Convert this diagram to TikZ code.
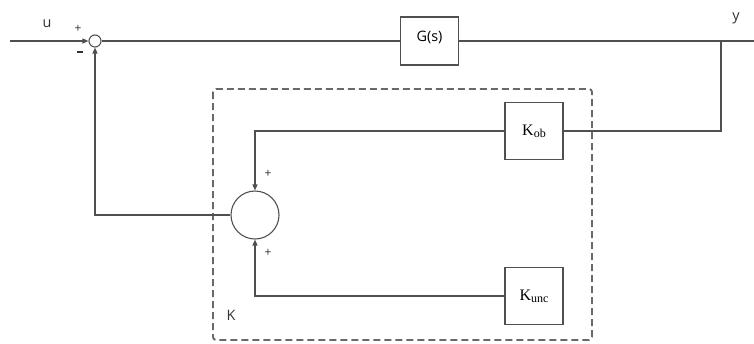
\documentclass[tikz,border=0pt]{standalone}
\usepackage{xcolor}
\usepackage{fontspec}
\setmainfont{Liberation Serif}
\newfontfamily\sigfont{Open Sans}
\usetikzlibrary{arrows.meta}
\definecolor{bdline}{RGB}{80,80,80}
\definecolor{bddash}{RGB}{105,105,105}
\definecolor{bdtext}{RGB}{50,50,50}

\begin{document}
\begin{tikzpicture}[x=1pt,y=-1pt,
    blockbox/.style={draw=bdline, line width=1.3pt, inner sep=0pt,
                     minimum width=58pt, minimum height=57pt,
                     font=\fontsize{16}{18}\selectfont},
    sig/.style={draw=bdline, line width=1.3pt},
    sigarrow/.style={sig, -{Triangle[length=6pt,width=5pt]}},
    signlabel/.style={text=bdtext, font=\sigfont\large},
    namelabel/.style={text=bdtext, font=\sigfont\Large}]
    \useasboundingbox (0,0) rectangle (754,343);
    % outer loop
    \node[draw=bdline, line width=1.1pt, circle, minimum size=12pt, inner sep=0pt] (sum1) at (95,41) {};
    \node[blockbox, minimum height=48pt] (plant) at (429.5,41) {\raisebox{9pt}{\sigfont\Large G(s)}};
    \coordinate (uin) at (10,41);
    \coordinate (yout) at (721,41);
    \coordinate (yend) at (754,41);
    \node[namelabel] (ulab) at (47,24) {u};
    \node[namelabel] (ylab) at (736,18) {y};
    \node[signlabel] (sp1) at (78,29) {+};
    \node[signlabel] (sm1) at (80,52) {\rule{6pt}{1.6pt}};
    % controller K
    \draw[draw=bddash, line width=1.9pt, dash pattern=on 7pt off 4pt, rounded corners=3pt]
        (213,89) rectangle (592,340);
    \node[namelabel] (klab) at (231,315) {K};
    \node[draw=bdline, line width=1.1pt, circle, minimum size=48pt, inner sep=0pt] (sum2) at (255,215) {};
    \node[blockbox] (kob) at (534,131) {K{\fontsize{12}{14}\selectfont\raisebox{-2pt}{ob}}};
    \node[blockbox] (kunc) at (534,296) {K{\fontsize{12}{14}\selectfont\raisebox{-2pt}{unc}}};
    \node[signlabel] (sp2) at (268,174) {+};
    \node[signlabel] (sp3) at (268,253) {+};
    % connectors
    \draw[sigarrow] (uin) -- (sum1.west);
    \draw[sig] (sum1.east) -- (plant.west);
    \draw[sig] (plant.east) -- (yend);
    \draw[sig] (yout) |- (kob.east);
    \draw[sigarrow] (kob.west) -| (sum2.north);
    \draw[sigarrow] (kunc.west) -| (sum2.south);
    \draw[sigarrow] (sum2.west) -| (sum1.south);
\end{tikzpicture}
\end{document}
